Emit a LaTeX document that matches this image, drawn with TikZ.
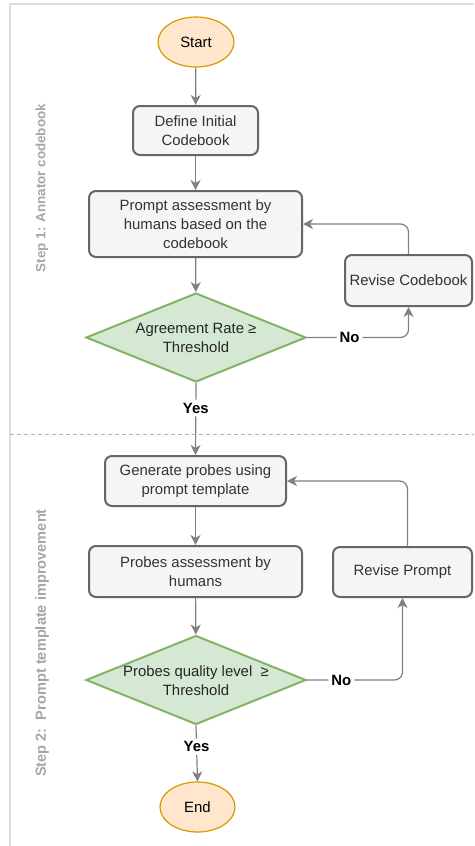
\documentclass[tikz,border=0pt]{standalone}
\usepackage{fontspec}
\setmainfont{Liberation Sans}
\usetikzlibrary{shapes.geometric,arrows.meta}
\definecolor{boxfill}{HTML}{F5F5F5}
\definecolor{boxdraw}{HTML}{666666}
\definecolor{decfill}{HTML}{D5E8D4}
\definecolor{decdraw}{HTML}{82B366}
\definecolor{termfill}{HTML}{FFE6CC}
\definecolor{termdraw}{HTML}{D79B00}
\definecolor{arrowc}{HTML}{808080}
\definecolor{framec}{HTML}{DDDDDD}
\definecolor{sidec}{HTML}{A6A6A6}
\definecolor{textc}{HTML}{333333}
\definecolor{dashc}{HTML}{B3B3B3}
\begin{document}
\begin{tikzpicture}[x=1pt,y=-1pt,
  font=\fontsize{14.9}{19}\selectfont,
  procbox/.style={draw=boxdraw, fill=boxfill, line width=2pt, rounded corners=7pt,
    align=center, text=textc, inner sep=0pt},
  term/.style={ellipse, draw=termdraw, fill=termfill, line width=1.2pt, inner sep=0pt,
    minimum width=76pt, minimum height=50pt},
  decision/.style={diamond, draw=decdraw, fill=decfill, line width=2pt,
    minimum width=220pt, minimum height=89pt, inner sep=0pt},
  dectext/.style={align=center, text=black!85},
  arr/.style={draw=arrowc, line width=1.2pt, rounded corners=8pt,
    -{Stealth[length=10pt,width=10pt,inset=3pt]}},
  lbl/.style={fill=white, font=\bfseries\fontsize{14.9}{19}\selectfont, inner sep=3pt},
  side/.style={rotate=90, text=sidec, font=\bfseries\fontsize{13.4}{16}\selectfont}
]
\useasboundingbox (0,0) rectangle (474,846);
\fill[white] (0,0) rectangle (474,846);
% frame and separator
\draw[framec, line width=2pt] (474,4) -- (10,4) -- (10,846);
\draw[dashc, line width=1pt, dash pattern=on 4pt off 3pt] (10,434) -- (474,434);
% side labels
\node[side] (s1) at (42,188) {Step 1: Annator codebook};
\node[side, font=\bfseries\fontsize{14.6}{17}\selectfont] (s2) at (42,643) {Step 2:\ \ Prompt template improvement};
% nodes
\node[term] (start) at (196,42) {Start};
\node[procbox, minimum width=125pt, minimum height=49pt] (define) at (195.5,130.5) {Define Initial\\Codebook};
\node[procbox, minimum width=213pt, minimum height=66pt] (assess) at (195.5,224) {Prompt assessment by\\humans based on the\\codebook};
\node[procbox, minimum width=127pt, minimum height=51pt] (revc) at (408.5,280.5) {Revise Codebook};
\node[decision] (dec1) at (196,337.5) {};
\node[dectext] (dec1t) at (196,338) {Agreement Rate ≥\\Threshold};
\node[procbox, minimum width=181pt, minimum height=50pt] (gen) at (195.5,481) {Generate probes using\\prompt template};
\node[procbox, minimum width=213pt, minimum height=51pt] (passess) at (195.5,571.5) {Probes assessment by\\humans};
\node[procbox, minimum width=139pt, minimum height=50pt] (revp) at (402.5,572) {Revise Prompt};
\node[decision] (dec2) at (196,680) {};
\node[dectext] (dec2t) at (196,680.5) {Probes quality level\ \ ≥\\Threshold};
\node[term, minimum width=75pt] (end) at (197.5,807) {End};
% connectors
\draw[arr] (start) -- (define);
\draw[arr] (define) -- (assess);
\draw[arr] (assess) -- (dec1);
\draw[arr] (dec1.east) -- node[lbl, pos=0.42] {No} (revc.south |- dec1.east) -- (revc.south);
\draw[arr] (revc.north) |- (assess.east);
\draw[arr] (dec1.south) -- node[lbl, pos=0.35] {Yes} (gen.north);
\draw[arr] (gen) -- (passess);
\draw[arr] (passess) -- (dec2);
\draw[arr] (dec2.east) -- node[lbl, pos=0.36] {No} (revp.south |- dec2.east) -- (revp.south);
\draw[arr] ([xshift=5pt]revp.north) |- (gen.east);
\draw[arr] (dec2.south) -- node[lbl, pos=0.38] {Yes} (end.north);
\end{tikzpicture}
\end{document}
